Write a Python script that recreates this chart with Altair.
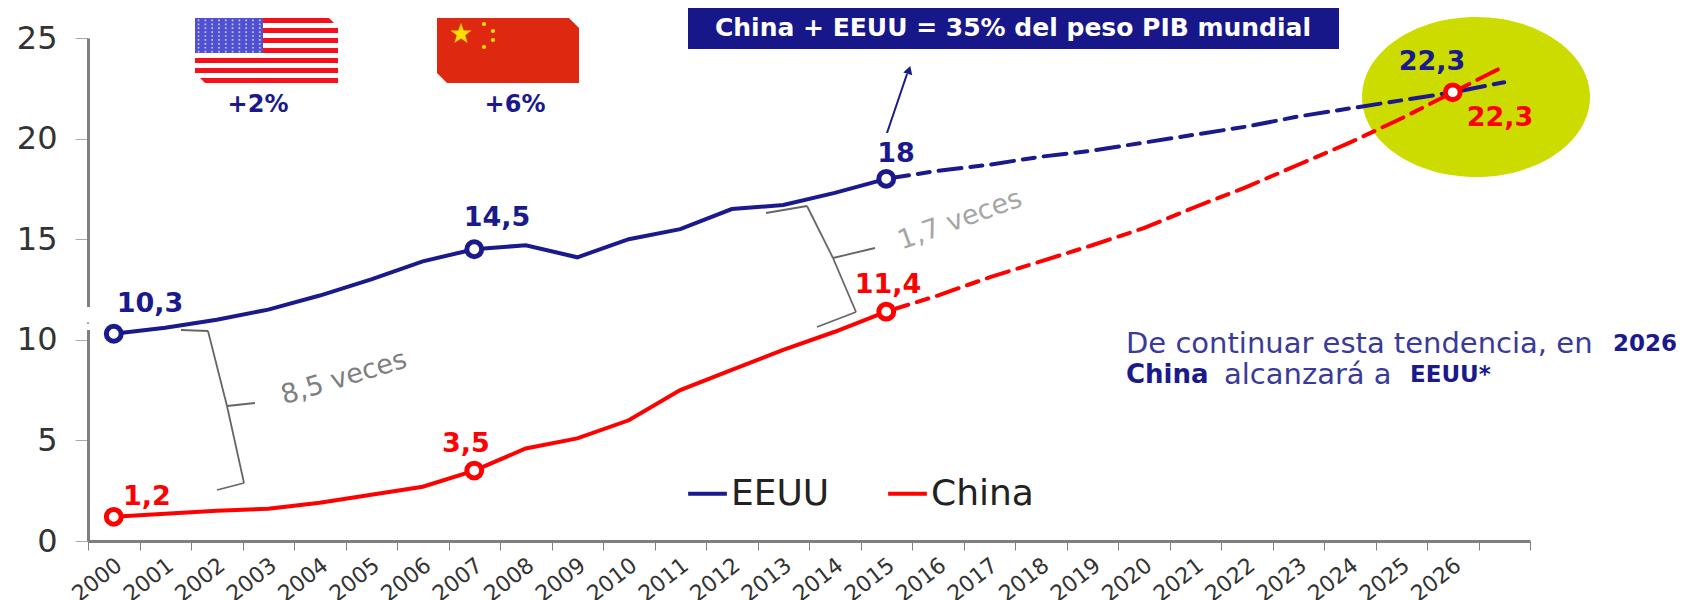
import altair as alt
import pandas as pd

years = [str(y) for y in range(2000, 2028)]
eeuu = [10.3, 10.6, 11.0, 11.5, 12.2, 13.0, 13.9, 14.5, 14.7, 14.1, 15.0, 15.5, 16.5, 16.7, 17.3, 18.0,
        18.4, 18.7, 19.1, 19.4, 19.8, 20.2, 20.6, 21.1, 21.5, 21.9, 22.3, 22.8]
china = [1.2, 1.35, 1.5, 1.6, 1.9, 2.3, 2.7, 3.5, 4.6, 5.1, 6.0, 7.5, 8.5, 9.5, 10.4, 11.4,
         12.2, 13.1, 13.9, 14.7, 15.55, 16.6, 17.6, 18.7, 19.8, 21.0, 22.3, 23.6]
last_actual = 15
marker_idx_eeuu = [0, 7, 15]
marker_idx_china = [0, 7, 15, 26]
FONT = "DejaVu Sans"
BLUE = "#1a1a8c"
RED = "#ff0000"
GRAY = "#7f7f7f"
OX, OY = 88, 38
W, H = 1442, 503

rows = []
for name, vals in (("EEUU", eeuu), ("China", china)):
    for i, (y, v) in enumerate(zip(years, vals)):
        rows.append({"year": y, "value": v, "serie": name, "i": i})
df = pd.DataFrame(rows)

xenc = alt.X("year:N", sort=years,
             scale=alt.Scale(type="band", domain=years, paddingInner=0, paddingOuter=0),
             axis=alt.Axis(title=None, tickBand="extent", labelAngle=322, labelAlign="right",
                           labelBaseline="middle", labelFontSize=22, labelFont=FONT, labelColor="#333333",
                           labelExpr="datum.label == '2027' ? '' : datum.label", labelPadding=12, labelOffset=5,
                           tickColor=GRAY, tickSize=9, domainColor=GRAY, domainWidth=3, labelOverlap=False))
yenc = alt.Y("value:Q", scale=alt.Scale(domain=[0, 25], nice=False),
             axis=alt.Axis(title=None, values=[0, 5, 10, 15, 20, 25], grid=False, labelFontSize=32, labelFont=FONT,
                           labelColor="#333333", tickColor="#aaaaaa", tickSize=13, domainColor=GRAY, domainWidth=3,
                           labelPadding=18))
colorscale = alt.Scale(domain=["EEUU", "China"], range=[BLUE, RED])


def rect(x0, y0, x1, y1, fill):
    return alt.Chart(df.head(1)).mark_rect(fill=fill).encode(
        x=alt.value(x0 - OX), x2=alt.value(x1 - OX), y=alt.value(y0 - OY), y2=alt.value(y1 - OY))


def seg(x0, y0, x1, y1, color="#666666", w=1.8):
    return alt.Chart(df.head(1)).mark_rule(color=color, strokeWidth=w).encode(
        x=alt.value(x0 - OX), x2=alt.value(x1 - OX), y=alt.value(y0 - OY), y2=alt.value(y1 - OY))


def sym(x, y, shape, size, fill, angle=0):
    return alt.Chart(df.head(1)).mark_point(shape=shape, size=size, filled=True, fill=fill, stroke=None,
                                            opacity=1, angle=angle).encode(
        x=alt.value(x - OX), y=alt.value(y - OY))


def txt(x, y, s, size, color, bold=False, align="left", angle=0):
    kw = {"angle": angle} if angle else {}
    return alt.Chart(df.head(1)).mark_text(text=s, fontSize=size, font=FONT, color=color, align=align,
                                           baseline="middle", fontWeight="bold" if bold else "normal", **kw).encode(
        x=alt.value(x - OX), y=alt.value(y - OY))


layers = []
# ellipse
layers.append(sym(1476, 97, "M-1.425,0A1.425,1,0,1,0,1.425,0A1.425,1,0,1,0,-1.425,0Z", 25600, "#cddc00"))
# lines
solid = df[df.i <= last_actual]
dash = df[df.i >= last_actual]
layers.append(alt.Chart(solid).mark_line(strokeWidth=4).encode(
    x=xenc, y=yenc,
    color=alt.Color("serie:N", scale=colorscale, sort=["EEUU", "China"],
                    legend=alt.Legend(orient="none", legendX=598, legendY=434, direction="horizontal", title=None,
                                      symbolType="stroke", symbolStrokeWidth=4, symbolSize=1500,
                                      labelFontSize=36, labelFont=FONT, labelColor="#222222",
                                      columnPadding=50, labelOffset=2))))
layers.append(alt.Chart(dash).mark_line(strokeWidth=4, strokeDash=[23, 9, 12, 9], strokeCap="round").encode(
    x=xenc, y=yenc, color=alt.Color("serie:N", scale=colorscale, legend=None)))

# axis break on the y axis
layers.append(rect(84, 307, 92, 330, "white"))
layers.append(rect(87, 322, 89, 324, "#aaaaaa"))

# markers
for name, idx, col in (("EEUU", marker_idx_eeuu, BLUE), ("China", marker_idx_china, RED)):
    sub = df[(df.serie == name) & (df.i.isin(idx))]
    layers.append(alt.Chart(sub).mark_point(filled=True, fill="white", stroke=col, strokeWidth=5, size=220,
                                            opacity=1).encode(x=xenc, y=yenc))

# data labels
for s, x, y, col in [("10,3", 150, 304, BLUE), ("14,5", 497, 218, BLUE), ("18", 896, 154, BLUE),
                     ("22,3", 1432, 62, BLUE), ("1,2", 147, 497, RED), ("3,5", 466, 444, RED),
                     ("11,4", 888, 285, RED), ("22,3", 1500, 118, RED)]:
    layers.append(txt(x, y, s, 27, col, bold=True, align="center"))

# banner
layers.append(rect(688, 5, 1339, 49, "#17178a"))
layers.append(txt(1013, 28, "China + EEUU = 35% del peso PIB mundial", 25, "white", bold=True, align="center"))
# arrow
layers.append(seg(887, 133, 907, 74, BLUE, 2))
layers.append(sym(909, 70, "triangle-up", 90, BLUE, angle=18))

# flags
layers.append(rect(195, 18, 338, 83, "white"))
for k in range(7):
    layers.append(rect(195, 18 + k * 10, 338, 23 + k * 10, "#f5101a"))
layers.append(rect(195, 18, 263, 53, "#5050d0"))
dots = "".join(f"M{-0.92 + c * 0.2:.3f},{-0.47 + r * 0.115:.3f}h0.05v0.05h-0.05Z" for r in range(9) for c in range(10))
layers.append(sym(229, 35.5, dots, 4624, "#c0c6f5"))
layers.append(rect(437, 18, 579, 83, "#de2910"))
layers.append(sym(461, 34, "M0,-1L0.24,-0.31L0.95,-0.31L0.38,0.12L0.59,0.81L0,0.4L-0.59,0.81L-0.38,0.12L-0.95,-0.31L-0.24,-0.31Z", 500, "#ffde00"))
for x, y in [(484, 24), (493, 31), (493, 40), (484, 47)]:
    layers.append(sym(x, y, "circle", 18, "#ffde00"))
for x, y, tri in [(333, 22, "M-1,-1L1,-1L1,1Z"), (574, 23, "M-1,-1L1,-1L1,1Z"),
                  (200, 78, "M-1,-1L1,1L-1,1Z"), (442, 78, "M-1,-1L1,1L-1,1Z")]:
    layers.append(sym(x, y, tri, 200, "white"))
layers.append(txt(258, 105, "+2%", 24, BLUE, bold=True, align="center"))
layers.append(txt(515, 105, "+6%", 24, BLUE, bold=True, align="center"))

# brackets
b1 = [(181, 330, 208, 331), (208, 331, 227, 406), (227, 406, 255, 403), (227, 406, 244, 483), (244, 483, 217, 490)]
b2 = [(766, 213, 807, 206), (807, 206, 833, 258), (833, 258, 875, 248), (833, 258, 856, 312), (856, 312, 817, 327)]
for b in b1 + b2:
    layers.append(seg(*b))
layers.append(txt(344, 378, "8,5 veces", 27, GRAY, align="center", angle=343))
layers.append(txt(960, 220, "1,7 veces", 27, "#a6a6a6", align="center", angle=340))

# note
NOTE = "#3a3a9a"
layers.append(txt(1126, 344, "De continuar esta tendencia, en", 29, NOTE))
layers.append(txt(1613, 344, "2026", 23, BLUE, bold=True))
layers.append(txt(1126, 375, "China", 26, BLUE, bold=True))
layers.append(txt(1224, 375, "alcanzará a", 29, NOTE))
layers.append(txt(1410, 375, "EEUU*", 23, BLUE, bold=True))

chart = alt.layer(*layers).properties(
    width=W, height=H,
    autosize=alt.AutoSizeParams(type="none"),
    padding={"left": OX - 8, "top": OY - 8, "right": 148, "bottom": 59},
).configure_view(stroke=None)

chart.save("out.html", embed_options={"renderer": "svg", "actions": False})
